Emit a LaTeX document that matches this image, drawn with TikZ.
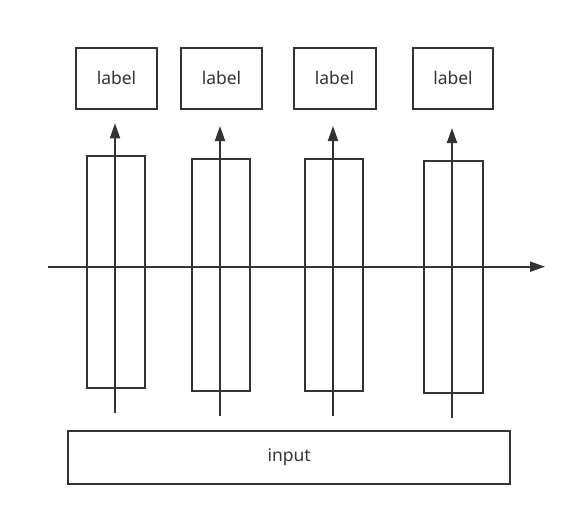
\documentclass[tikz,border=0pt]{standalone}
\usepackage{fontspec}
\setmainfont{Noto Sans}
\usetikzlibrary{arrows.meta}
\begin{document}
\begin{tikzpicture}[x=1pt,y=-1pt,
  every node/.style={inner sep=0pt,outer sep=0pt},
  box/.style={draw=black!80,line width=2pt,font=\fontsize{17.5}{19}\selectfont,text=black!80},
  flow/.style={draw=black!80,line width=2pt},
  arr/.style={flow,-{Triangle[length=15pt,width=10pt]}}]
\useasboundingbox (0,0) rectangle (575,516);
% label boxes
\node[box,minimum width=81pt,minimum height=61pt] (l1) at (116.5,78.2) {label};
\node[box,minimum width=81pt,minimum height=61pt] (l2) at (221.5,78.2) {label};
\node[box,minimum width=82pt,minimum height=61pt] (l3) at (334.5,78.2) {label};
\node[box,minimum width=80pt,minimum height=61pt] (l4) at (453,78.2) {label};
% tall boxes
\node[box,minimum width=58pt,minimum height=232pt] (r1) at (116,271.7) {};
\node[box,minimum width=58pt,minimum height=232pt] (r2) at (221,274.5) {};
\node[box,minimum width=58pt,minimum height=232pt] (r3) at (334,274.5) {};
\node[box,minimum width=59pt,minimum height=232pt] (r4) at (453,276.7) {};
% input
\node[box,minimum width=442pt,minimum height=53pt] (in) at (289.2,457.5) {input};
% vertical arrows
\coordinate (b1) at (115,412.7); \coordinate (t1) at (115,123.3);
\coordinate (b2) at (220,415.7); \coordinate (t2) at (220,126);
\coordinate (b3) at (333,415.7); \coordinate (t3) at (333,126);
\coordinate (b4) at (452,417.7); \coordinate (t4) at (452,128);
\draw[arr] (b1) -- (t1);
\draw[arr] (b2) -- (t2);
\draw[arr] (b3) -- (t3);
\draw[arr] (b4) -- (t4);
% horizontal arrow
\coordinate (hs) at (48.3,266.7); \coordinate (he) at (545,266.7);
\draw[arr] (hs) -- (he);
\end{tikzpicture}
\end{document}
